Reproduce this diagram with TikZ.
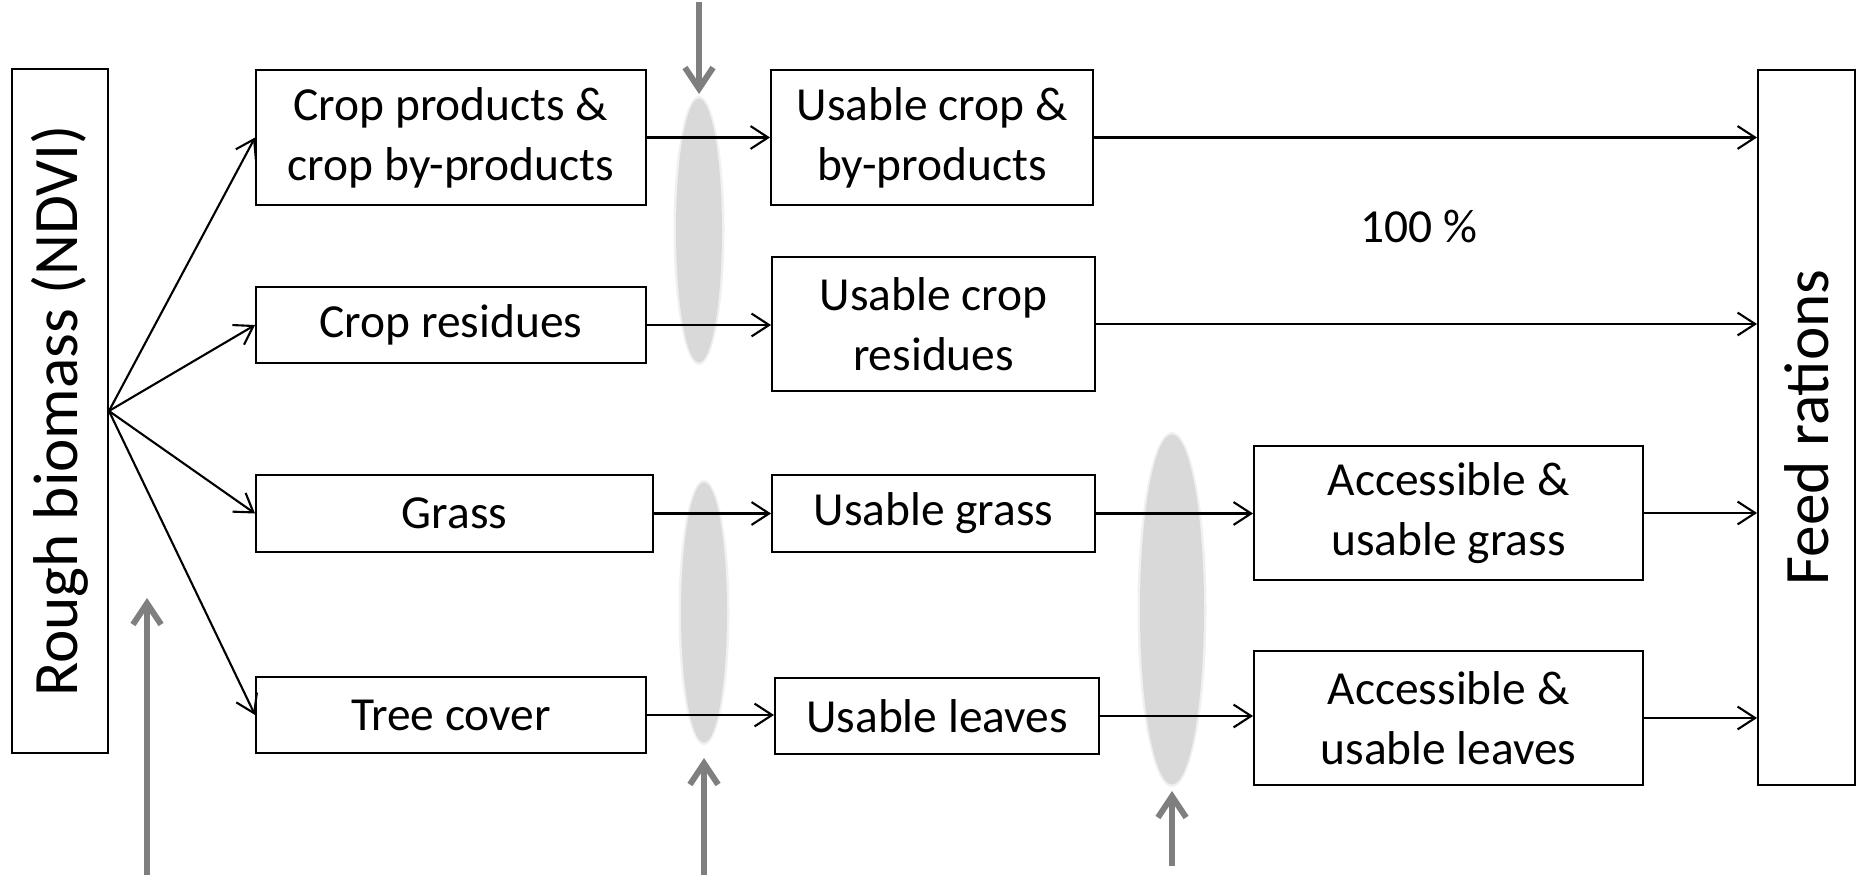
\documentclass[tikz,border=0pt]{standalone}
\usepackage{fontspec}
\setmainfont{Carlito}
\usetikzlibrary{arrows.meta}
\definecolor{haze}{HTML}{D9D9D9}
\definecolor{pointer}{HTML}{7F7F7F}

\begin{document}
\begin{tikzpicture}[
	box/.style={draw, line width=0.55pt, align=center, inner sep=0pt, font=\fontsize{13.5}{17}\selectfont},
	tall/.style={draw, line width=0.55pt, rotate=90, inner sep=0pt, font=\fontsize{18}{21}\selectfont},
	flow/.style={-{Straight Barb[length=5pt,width=6.5pt]}, line width=0.6pt},
	hint/.style={-{Straight Barb[length=6pt,width=8pt]}, line width=1.7pt, pointer},
	lens/.style={fill=haze}
]
	\useasboundingbox (0,0) rectangle (18.65,8.8);

	% soft grey lenses
	\fill[haze!40] (6.99,6.495) ellipse (0.255 and 1.345);
	\fill[lens] (6.99,6.495) ellipse (0.23 and 1.32);
	\fill[haze!40] (7.04,2.675) ellipse (0.255 and 1.325);
	\fill[lens] (7.04,2.675) ellipse (0.23 and 1.30);
	\fill[haze!40] (11.72,2.705) ellipse (0.345 and 1.775);
	\fill[lens] (11.72,2.705) ellipse (0.32 and 1.75);

	% side columns
	\node[tall, minimum width=6.84cm, minimum height=0.96cm] (bio) at (0.60,4.69) {Rough biomass (NDVI)};
	\node[tall, minimum width=7.15cm, minimum height=0.97cm] (feed) at (18.065,4.525) {Feed rations};

	% first column
	\node[box, minimum width=3.90cm, minimum height=1.35cm] (crop) at (4.51,7.425) {Crop products \&\\crop by-products};
	\node[box, minimum width=3.90cm, minimum height=0.76cm] (resid) at (4.51,5.55) {Crop residues};
	\node[box, minimum width=3.97cm, minimum height=0.77cm] (grass) at (4.545,3.665) {Grass};
	\node[box, minimum width=3.90cm, minimum height=0.76cm] (tree) at (4.51,1.65) {Tree cover};

	% second column
	\node[box, minimum width=3.22cm, minimum height=1.35cm] (ucrop) at (9.32,7.425) {Usable crop \&\\by-products};
	\node[box, minimum width=3.23cm, minimum height=1.34cm] (uresid) at (9.335,5.56) {Usable crop\\residues};
	\node[box, minimum width=3.23cm, minimum height=0.77cm] (ugrass) at (9.335,3.665) {Usable grass};
	\node[box, minimum width=3.24cm, minimum height=0.76cm] (uleaves) at (9.37,1.64) {Usable leaves};

	% third column
	\node[box, minimum width=3.89cm, minimum height=1.34cm] (agrass) at (14.485,3.67) {Accessible \&\\usable grass};
	\node[box, minimum width=3.89cm, minimum height=1.34cm] (aleaves) at (14.485,1.62) {Accessible \&\\usable leaves};

	\node[font=\fontsize{13.5}{17}\selectfont] (pct) at (14.19,6.53) {100 \%};

	% fan out from the biomass column
	\foreach \n in {crop,resid,grass,tree}
		\draw[flow] (bio.south) -- (\n.west);

	\draw[flow] (crop.east) -- (ucrop.west);
	\draw[flow] (resid.east) -- (resid.east -| uresid.west);
	\draw[flow] (grass.east) -- (ugrass.west);
	\draw[flow] (tree.east) -- (tree.east -| uleaves.west);
	\draw[flow] (ugrass.east) -- (ugrass.east -| agrass.west);
	\draw[flow] (uleaves.east) -- (uleaves.east -| aleaves.west);

	% into the feed column
	\foreach \n in {ucrop,uresid,agrass,aleaves}
		\draw[flow] (\n.east) -- (\n.east -| feed.north);

	% grey pointers
	\coordinate (p1) at (6.99,8.78);
	\coordinate (q1) at (6.99,7.86);
	\coordinate (p2) at (1.47,0.05);
	\coordinate (q2) at (1.47,2.82);
	\coordinate (p3) at (7.04,0.05);
	\coordinate (q3) at (7.04,1.22);
	\coordinate (p4) at (11.72,0.14);
	\coordinate (q4) at (11.72,0.89);
	\foreach \i in {1,...,4}
		\draw[hint] (p\i) -- (q\i);
\end{tikzpicture}
\end{document}
